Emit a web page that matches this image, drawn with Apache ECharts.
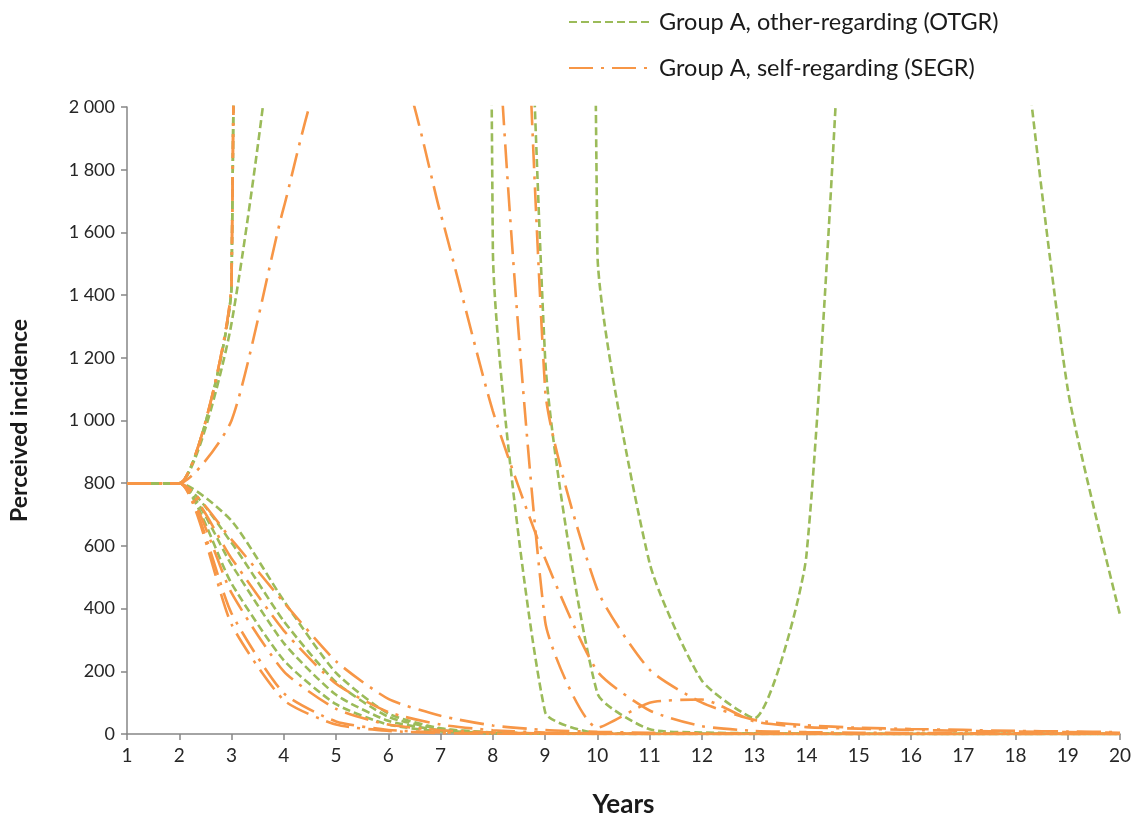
<!DOCTYPE html>
<html>
<head>
<meta charset="utf-8">
<script src="https://cdn.jsdelivr.net/npm/echarts@6/dist/echarts.min.js"></script>
<style>
html,body{margin:0;padding:0;background:#fff;}
#chart{width:1141px;height:823px;}
</style>
</head>
<body>
<div id="chart"></div>
<script>
// ---- data ----
const years = ['1','2','3','4','5','6','7','8','9','10','11','12','13','14','15','16','17','18','19','20'];
const otgrName = 'Group A, other-regarding (OTGR)';
const segrName = 'Group A, self-regarding (SEGR)';

// other-regarding runs (green dashed)
const otgrRunA = [800,800,1430,30000,30000,30000,40000,1550,70,3,1,1,1,1,0,0,0,0,0,0];
const otgrRunB = [800,800,1430,30000,30000,30000,30000,7000,1200,130,15,5,2,1,0,0,0,0,0,0];
const otgrRunC = [800,800,1310,2700,30000,30000,30000,30000,30000,1540,545,170,50,570,3500,8000,5000,2500,1100,380];
const otgrRunD = [800,800,680,425,195,65,18,5,2,1,0,0,0,0,0,0,0,0,0,0];
const otgrRunE = [800,800,610,360,165,55,16,4,2,1,0,0,0,0,0,0,0,0,0,0];
const otgrRunF = [800,800,540,290,125,42,12,3,1,0,0,0,0,0,0,0,0,0,0,0];
const otgrRunG = [800,800,480,235,95,30,8,2,1,0,0,0,0,0,0,0,0,0,0,0];

// self-regarding runs (orange dash-dot)
const segrRunA = [800,800,1000,1680,2200,2200,1660,1030,560,200,75,25,10,6,4,3,2,2,1,1];
const segrRunB = [800,800,1440,30000,30000,30000,30000,6000,1100,460,205,100,45,28,20,16,13,10,8,6];
const segrRunC = [800,800,1440,30000,30000,30000,30000,2700,360,20,100,110,40,22,17,13,10,8,6,4];
const segrRunD = [800,800,620,420,232,112,58,27,13,7,4,2,1,1,0,0,0,0,0,0];
const segrRunE = [800,800,560,330,160,70,30,12,5,2,1,0,0,0,0,0,0,0,0,0];
const segrRunF = [800,800,450,200,80,30,12,5,2,1,0,0,0,0,0,0,0,0,0,0];
const segrRunG = [800,800,385,130,40,13,5,2,1,0,0,0,0,0,0,0,0,0,0,0];
const segrRunH = [800,800,350,108,30,10,3,1,0,0,0,0,0,0,0,0,0,0,0,0];

const yTicks = {min:0, max:2000, interval:200};

const otgrRuns = [otgrRunA, otgrRunB, otgrRunC, otgrRunD, otgrRunE, otgrRunF, otgrRunG];
const segrRuns = [segrRunA, segrRunB, segrRunC, segrRunD, segrRunE, segrRunF, segrRunG, segrRunH];

// ---- styles ----
const GREEN = '#9BBB59';
const ORANGE = '#F79646';
const FONT = 'Lato';
const smooth = 0.2;

function mk(name, data, color, dash){
  return {
    name: name, type: 'line', data: data, smooth: smooth,
    showSymbol: false, symbol: 'none', clip: true,
    lineStyle: {color: color, width: 2.6, type: dash},
    itemStyle: {color: color},
    emphasis: {disabled: true}
  };
}
const series = [];
otgrRuns.forEach(r => series.push(mk(otgrName, r, GREEN, [8,4])));
segrRuns.forEach(r => series.push(mk(segrName, r, ORANGE, [24,8,3,8])));

function fmt(v){
  if (v >= 1000){ return Math.floor(v/1000) + ' ' + String(v%1000).padStart(3,'0'); }
  return String(v);
}

const chart = echarts.init(document.getElementById('chart'), null, {renderer:'canvas'});
chart.setOption({
  animation: false,
  backgroundColor: '#fff',
  legend: {
    orient: 'vertical', left: 563, top: 5,
    itemWidth: 84, itemHeight: 14, itemGap: 22,
    data: [otgrName, segrName],
    itemStyle: {opacity: 0},
    textStyle: {fontFamily: FONT, fontSize: 23.5, color: '#1a1a1a', padding:[0,0,0,1]}
  },
  grid: {left: 124, right: 21, top: 107, bottom: 89, containLabel: false},
  xAxis: {
    type: 'category', data: years, boundaryGap: false,
    name: 'Years', nameLocation: 'middle', nameGap: 58,
    nameTextStyle: {fontFamily: FONT, fontSize: 26, fontWeight: 'bold', color: '#1a1a1a'},
    axisLine: {lineStyle: {color: '#868686', width: 1.5}},
    axisTick: {alignWithLabel: true, length: 6, lineStyle: {color: '#868686', width: 1.5}},
    axisLabel: {fontFamily: FONT, fontSize: 19, color: '#262626', margin: 12, interval: 0},
    splitLine: {show: false}
  },
  yAxis: {
    type: 'value', min: yTicks.min, max: yTicks.max, interval: yTicks.interval,
    name: 'Perceived incidence', nameLocation: 'middle', nameGap: 96, nameRotate: 90,
    nameTextStyle: {fontFamily: FONT, fontSize: 23, fontWeight: 'bold', color: '#1a1a1a'},
    axisLine: {show: true, lineStyle: {color: '#868686', width: 1.5}},
    axisTick: {show: true, length: 6, lineStyle: {color: '#868686', width: 1.5}},
    axisLabel: {fontFamily: FONT, fontSize: 18, color: '#262626', margin: 12, formatter: fmt},
    splitLine: {show: false}
  },
  series: series
});
</script>
</body>
</html>
